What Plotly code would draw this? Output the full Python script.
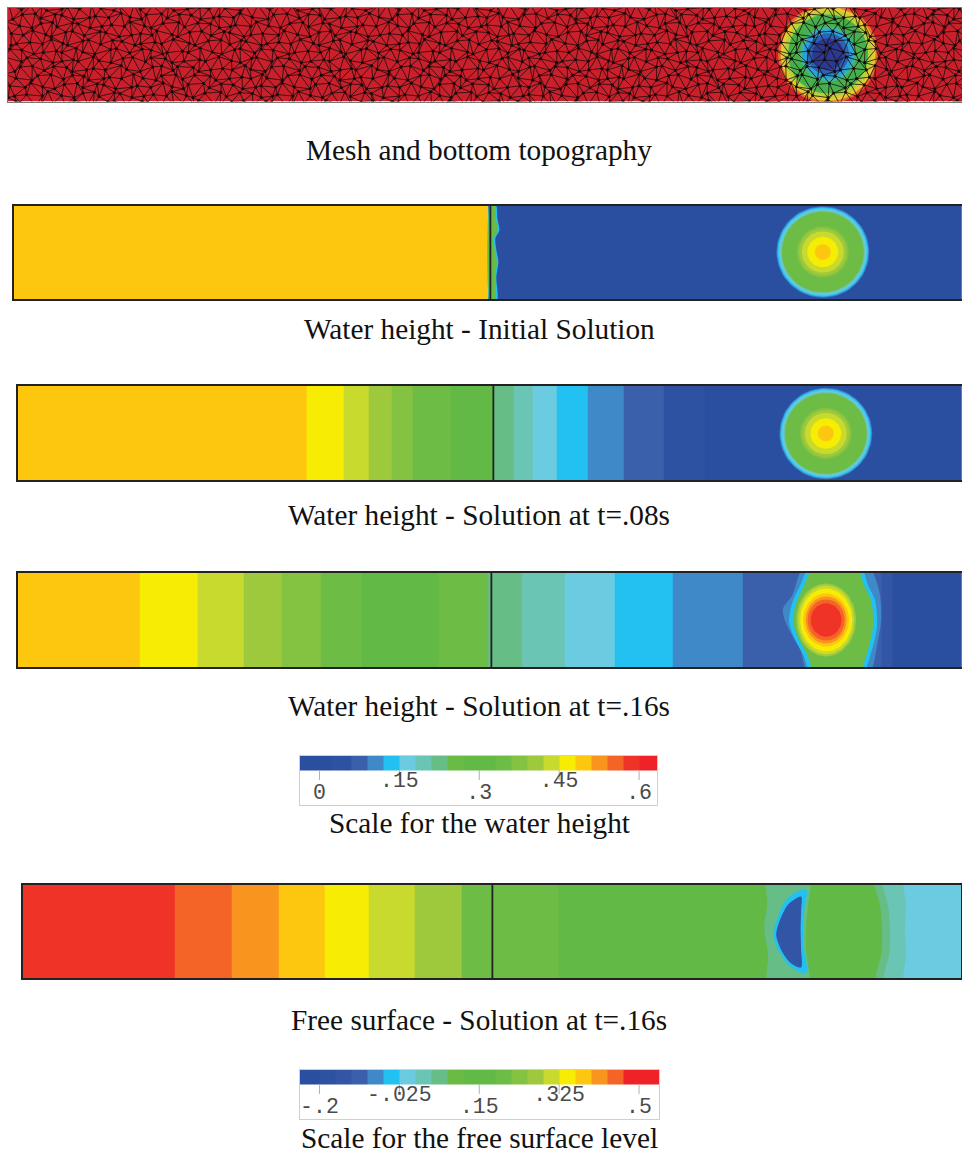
import numpy as np
import plotly.graph_objects as go

W, H = 962, 1153

# Colour classes
PALETTE = ["#2b4fa0", "#2e52a2", "#3256a5", "#3a60ab", "#3f89c9", "#22c1f1", "#6bcbe0",
           "#6ac5b5", "#66bd85", "#69bb45", "#63b946", "#6dbc45", "#84c341", "#9fc93d",
           "#c8da2e", "#f6ec04", "#fdc70f", "#f9941e", "#f46427", "#f03327", "#ee2227"]

# Scale for the water height
SCALE1_EDGES = [-.0375, -.0075, .0225, .06, .09, .12, .15, .18, .21, .24, .27, .30, .33, .36,
                .39, .42, .45, .48, .51, .54, .57, .60, .6337]
SCALE1_CLASS = [0, 0, 1, 3, 4, 5, 6, 7, 8, 9, 10, 10, 11, 12, 13, 14, 15, 16, 17, 18, 19, 20]
SCALE1_TICKS = [0, .15, .3, .45, .6]
SCALE1_LABELS = ["0", ".15", ".3", ".45", ".6"]

# Scale for the free surface level
SCALE2_EDGES = [-.24375, -.2, -.165, -.13, -.095, -.06, -.025, .01, .045, .08, .115, .15, .185,
                .22, .255, .29, .325, .36, .395, .43, .465, .54375]
SCALE2_CLASS = [0, 1, 2, 3, 4, 5, 6, 7, 8, 9, 10, 10, 11, 12, 13, 14, 15, 16, 17, 18, 20]
SCALE2_TICKS = [-.2, -.025, .15, .325, .5]
SCALE2_LABELS = ["-.2", "-.025", ".15", ".325", ".5"]

# Panels: positions along the channel, in picture units
P1_EDGES = [13, 490, 962]
P1_CLASS = [16, 0]
P1_DIVIDER = 490
P1_FRONT_X = [490, 496, 497, 499, 495, 496, 498, 496, 497, 490]
P1_FRONT_Y = [195, 205, 218, 230, 238, 250, 262, 278, 300, 310]
P1_CENTER = (822.7, 252)
RING_R = [46.5, 45.5, 44.5, 43.5, 42.5, 41, 26, 24, 21, 15.5, 8]
RING_C = ["#3f78c4", 5, "#48c7e8", 6, 7, 11, 12, 13, 14, 15, 16]

P2_EDGES = [17, 306, 343, 368, 391, 412, 450, 493, 513, 532, 556, 587, 623, 664, 705, 962]
P2_CLASS = [16, 15, 14, 13, 12, 11, 10, 8, 7, 6, 5, 4, 3, 1, 0]
P2_DIVIDER = 493
P2_CENTER = (825.7, 433.5)

P3_EDGES = [17, 139, 197, 243, 281, 320, 361, 438, 487, 521, 564, 614, 673, 743, 882, 893, 962]
P3_CLASS = [16, 15, 14, 13, 12, 11, 10, 11, 8, 7, 6, 5, 4, 3, 2, 0]
P3_DIVIDER = 491
P3_HALO_X = [806, 792, 783, 784, 790, 800, 810, 867, 878, 881, 879, 866]
P3_HALO_Y = [562, 595, 608, 618, 632, 650, 678, 678, 640, 620, 590, 562]
P3_CYAN_X = [812, 800, 792, 789, 795, 803, 813, 860, 872, 877, 875, 868, 859]
P3_CYAN_Y = [562, 585, 603, 622, 640, 655, 678, 678, 650, 625, 600, 585, 562]
P3_GREEN_X = [816, 804, 796, 793, 799, 807, 817, 856, 868, 873, 871, 864, 855]
P3_GREEN_Y = [562, 585, 603, 622, 640, 655, 678, 678, 650, 625, 600, 585, 562]
P3_CENTER = (826, 620)
P3_RX = [30, 28, 26, 23, 20.5, 18.5, 15.5]
P3_RY = [37, 35, 32, 27, 24, 21, 17]
P3_RC = [13, 14, 15, 16, 17, 18, 19]

P4_EDGES = [22, 174, 231, 278, 324, 368, 414, 461, 558, 961]
P4_CLASS = [19, 18, 17, 16, 15, 14, 13, 11, 10]
P4_DIVIDER = 492
P4_BAND1_X = [875, 880, 882, 881, 876, 985, 985]
P4_BAND1_Y = [874, 905, 930, 955, 989, 989, 874]
P4_BAND2_X = [883, 888, 890, 889, 884, 985, 985]
P4_BAND2_Y = [874, 905, 930, 955, 989, 989, 874]
P4_BAND3_X = [905, 906, 905, 906, 905, 985, 985]
P4_BAND3_Y = [874, 905, 930, 955, 989, 989, 874]
P4_HALO_X = [768, 767, 764, 768, 768, 808, 806, 806, 808, 809]
P4_HALO_Y = [874, 905, 928, 955, 989, 989, 950, 925, 905, 874]
P4_CYAN_X = [806, 795, 783, 775, 773, 778, 788, 803, 807, 804, 803, 804, 807]
P4_CYAN_Y = [889, 892, 904, 925, 935, 950, 965, 974, 972, 950, 930, 910, 892]
P4_BLUE_X = [801, 788, 779, 776, 782, 791, 801, 801, 800.5, 801]
P4_BLUE_Y = [896, 904, 922, 935, 952, 964, 968, 950, 930, 910]

# Mesh panel: bottom bump rings (radius, colour)
MESH_BG = "#c9202c"
MESH_CENTER = (828, 54)
MESH_R = [50, 47.5, 44, 40, 28, 25, 21, 16]
MESH_C = ["#e0702c", "#e8c832", "#b5d23a", "#45b04c", "#3cb5a0", "#2a9fdc", "#2c62b4", "#2b3a90"]
# Small hand-set node offsets: an illustrative mesh, nodes are not read one by one
OFF_X = [1.5, -3, 0.5, 3.5, -1.5, -3.5, 2, 0, -2, 3, -1, 3.5, -3, 1.5, -1.5, 2, -3.5]
OFF_Y = [-2.5, 1.5, 3, -1, -3, 2, 0, -1.5, 3, 1, -2, 1.5]
MESH_DX, MESH_DY = 10.5, 8.8

TITLES = [("Mesh and bottom topography", 150), ("Water height - Initial Solution", 329),
          ("Water height - Solution at t=.08s", 515), ("Water height - Solution at t=.16s", 706),
          ("Scale for the water height", 823), ("Free surface - Solution at t=.16s", 1020),
          ("Scale for the free surface level", 1138)]

fig = go.Figure()
axis_count = [0]
COLORSCALE = []
for i, c in enumerate(PALETTE):
    COLORSCALE += [[i / len(PALETTE), c], [(i + 1) / len(PALETTE), c]]


def panel(left, top, right, bottom, xrange=None, color="#222222", width=1.5, closed=True):
    axis_count[0] += 1
    n = axis_count[0]
    sx = "" if n == 1 else str(n)
    common = dict(showgrid=False, zeroline=False, showticklabels=False, ticks="", showline=True,
                  linecolor=color, linewidth=width)
    inset = width / 2
    fig.layout["xaxis" + sx] = dict(domain=[(left + inset) / W, min(right, W) / W], anchor="y" + sx,
                                    range=xrange or [left, right], mirror=True, **common)
    fig.layout["yaxis" + sx] = dict(domain=[1 - (bottom - inset) / H, 1 - (top + inset) / H], anchor="x" + sx,
                                    range=[bottom, top], mirror=closed, **common)
    return "x" + sx, "y" + sx


def col(c):
    return PALETTE[c] if isinstance(c, int) else c


def bands(ax, edges, classes, top, bottom):
    fig.add_trace(go.Heatmap(x=edges, y=[top, bottom], z=[classes], xaxis=ax[0], yaxis=ax[1],
                             colorscale=COLORSCALE, zmin=-.5, zmax=len(PALETTE) - .5,
                             showscale=False, hoverinfo="skip"))


def poly(ax, xs, ys, c, smooth=False):
    line = dict(width=0, color=col(c))
    if smooth:
        line.update(shape="spline", smoothing=.8)
    fig.add_trace(go.Scatter(x=list(xs) + [xs[0]], y=list(ys) + [ys[0]], mode="lines", fill="toself",
                             fillcolor=col(c), line=line, xaxis=ax[0], yaxis=ax[1],
                             hoverinfo="skip", showlegend=False))


def ellipse(ax, center, rx, ry, c):
    t = np.linspace(0, 2 * np.pi, 73)
    poly(ax, center[0] + rx * np.cos(t), center[1] + ry * np.sin(t), c)


def divider(ax, x, top, bottom):
    fig.add_trace(go.Scatter(x=[x, x], y=[top, bottom], mode="lines", line=dict(color="#222222", width=1.8),
                             xaxis=ax[0], yaxis=ax[1], hoverinfo="skip", showlegend=False))


# Mesh panel
ax = panel(7, 7, 962, 102, color="#777777", width=1, closed=False)
fig.add_trace(go.Heatmap(x=[7, 962], y=[7, 102], z=[[0]], xaxis=ax[0], yaxis=ax[1],
                         colorscale=[[0, MESH_BG], [1, MESH_BG]], showscale=False, hoverinfo="skip"))
for r, c in zip(MESH_R, MESH_C):
    ellipse(ax, MESH_CENTER, r, r, c)
ncol, nrow = int(955 / MESH_DX) + 2, int(95 / MESH_DY) + 2


def node(i, j):
    return (7 + i * MESH_DX + (j % 2) * MESH_DX / 2 + OFF_X[(3 * i + 7 * j) % len(OFF_X)],
            7 + j * MESH_DY + OFF_Y[(5 * i + 2 * j) % len(OFF_Y)])


ex, ey, nx, ny = [], [], [], []
for j in range(nrow):
    for i in range(ncol):
        p = node(i, j)
        nx.append(p[0]); ny.append(p[1])
        for q in [(i + 1, j), (i + (j % 2), j + 1), (i + (j % 2) - 1, j + 1)]:
            if q[0] < 0 or q[0] >= ncol or q[1] >= nrow:
                continue
            o = node(*q)
            ex += [p[0], o[0], None]
            ey += [p[1], o[1], None]
fig.add_trace(go.Scatter(x=ex, y=ey, mode="lines", line=dict(color="rgba(25,10,10,.78)", width=1),
                         xaxis=ax[0], yaxis=ax[1], hoverinfo="skip", showlegend=False))
fig.add_trace(go.Scatter(x=nx, y=ny, mode="markers", marker=dict(color="rgba(20,8,8,.85)", size=3.2),
                         xaxis=ax[0], yaxis=ax[1], hoverinfo="skip", showlegend=False))

# Initial solution
ax = panel(13, 205, 962, 300, closed=False)
bands(ax, P1_EDGES, P1_CLASS, 205, 300)
poly(ax, P1_FRONT_X, P1_FRONT_Y, 5, smooth=True)
poly(ax, [x - 1.5 if x > 490 else x for x in P1_FRONT_X], P1_FRONT_Y, 9, smooth=True)
for r, c in zip(RING_R, RING_C):
    ellipse(ax, P1_CENTER, r, r, c)
divider(ax, P1_DIVIDER, 205, 300)

# t=.08s
ax = panel(17, 385, 962, 481, closed=False)
bands(ax, P2_EDGES, P2_CLASS, 385, 481)
for r, c in zip(RING_R, RING_C):
    ellipse(ax, P2_CENTER, r, r, c)
divider(ax, P2_DIVIDER, 385, 481)

# t=.16s
ax = panel(17, 572, 962, 668, closed=False)
bands(ax, P3_EDGES, P3_CLASS, 572, 668)
poly(ax, P3_HALO_X, P3_HALO_Y, 4, smooth=True)
poly(ax, P3_CYAN_X, P3_CYAN_Y, 5, smooth=True)
poly(ax, P3_GREEN_X, P3_GREEN_Y, 11, smooth=True)
for rx, ry, c in zip(P3_RX, P3_RY, P3_RC):
    ellipse(ax, P3_CENTER, rx, ry, c)
divider(ax, P3_DIVIDER, 572, 668)

# Free surface
ax = panel(22, 884, 961, 979)
bands(ax, P4_EDGES, P4_CLASS, 884, 979)
poly(ax, P4_BAND1_X, P4_BAND1_Y, 8, smooth=True)
poly(ax, P4_BAND2_X, P4_BAND2_Y, 7, smooth=True)
poly(ax, P4_BAND3_X, P4_BAND3_Y, 6, smooth=True)
poly(ax, P4_HALO_X, P4_HALO_Y, 8, smooth=True)
poly(ax, P4_CYAN_X, P4_CYAN_Y, 5, smooth=True)
poly(ax, P4_BLUE_X, P4_BLUE_Y, 2, smooth=True)
divider(ax, P4_DIVIDER, 884, 979)


def scale(left, right, top, bar_bottom, bottom, edges, classes, ticks, labels, vrange):
    ax = panel(left, top, right, bottom, xrange=vrange, color="#cfcfcf", width=1)
    bands(ax, edges, classes, top, bar_bottom)
    tx, ty = [], []
    for t in ticks:
        tx += [t, t, None]
        ty += [bar_bottom, bar_bottom + 10, None]
    fig.add_trace(go.Scatter(x=tx, y=ty, mode="lines", line=dict(color="#b0b0b0", width=1),
                             xaxis=ax[0], yaxis=ax[1], hoverinfo="skip", showlegend=False))
    ly = [bottom - 11 if i % 2 == 0 else bottom - 23 for i in range(len(ticks))]
    fig.add_trace(go.Scatter(x=ticks, y=ly, text=labels, mode="text", cliponaxis=False,
                             textposition="middle center", textfont=dict(family="Liberation Mono", size=21.5, color="#4a4a4a"),
                             xaxis=ax[0], yaxis=ax[1], hoverinfo="skip", showlegend=False))


scale(299, 657, 755, 770, 805, SCALE1_EDGES, SCALE1_CLASS, SCALE1_TICKS, SCALE1_LABELS, [-.0375, .6337])
scale(299, 659, 1069, 1084, 1119, SCALE2_EDGES, SCALE2_CLASS, SCALE2_TICKS, SCALE2_LABELS, [-.24375, .54375])

for text, y in TITLES:
    fig.add_annotation(text=text, x=479 / W, y=1 - y / H, xref="paper", yref="paper", showarrow=False,
                       xanchor="center", yanchor="middle",
                       font=dict(family="Liberation Serif", size=29.3, color="#111111"))

fig.update_layout(width=W, height=H, autosize=False, margin=dict(l=0, r=0, t=0, b=0), showlegend=False,
                  paper_bgcolor="white", plot_bgcolor="white")
fig.write_html("out.html", config=dict(displayModeBar=False),
               post_script="document.body.style.margin='0';")
